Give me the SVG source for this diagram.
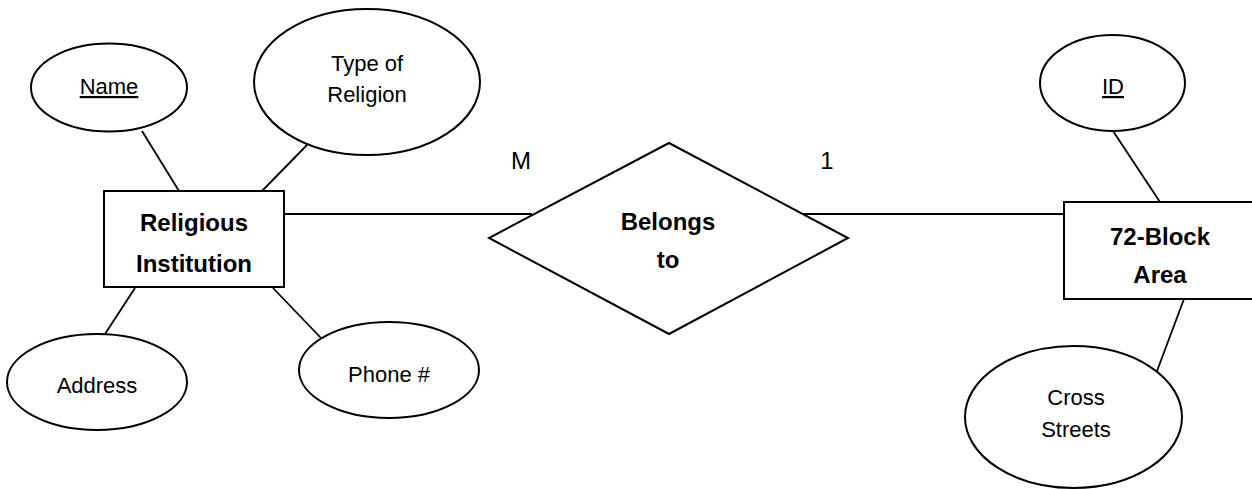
<svg xmlns="http://www.w3.org/2000/svg" width="1252" height="489" viewBox="0 0 1252 489">
<style>
.shape{fill:#fff;stroke:#000;stroke-width:2}
.conn line{stroke:#000;stroke-width:1.8}
.t{font-family:"Liberation Sans",Arial,sans-serif;font-size:22px;fill:#000;text-anchor:middle}
.c{font-family:"Liberation Sans",Arial,sans-serif;font-size:24px;fill:#000;text-anchor:middle}
.b{font-family:"Liberation Sans",Arial,sans-serif;font-size:24px;font-weight:bold;fill:#000;text-anchor:middle}
.u{text-decoration:underline}
</style>
<rect width="1252" height="489" fill="#fff"/>
<g id="connectors" class="conn">
<line x1="142" y1="131" x2="179" y2="191"/>
<line x1="307" y1="145" x2="262" y2="191"/>
<line x1="135" y1="288" x2="105" y2="334"/>
<line x1="273" y1="288" x2="321" y2="338"/>
<line x1="284" y1="214" x2="532" y2="214"/>
<line x1="802" y1="214" x2="1064" y2="214"/>
<line x1="1113" y1="131" x2="1160" y2="202"/>
<line x1="1184" y1="299" x2="1157" y2="371"/>
</g>
<g id="attr-name">
<ellipse class="shape" cx="109" cy="87.5" rx="78" ry="44"/>
<text class="t u" x="109" y="94">Name</text>
</g>
<g id="attr-type">
<ellipse class="shape" cx="367" cy="82" rx="113" ry="73"/>
<text class="t" x="367" y="71">Type of</text>
<text class="t" x="367" y="102">Religion</text>
</g>
<g id="attr-address">
<ellipse class="shape" cx="97" cy="382" rx="90" ry="48"/>
<text class="t" x="97" y="393">Address</text>
</g>
<g id="attr-phone">
<ellipse class="shape" cx="389" cy="370" rx="90" ry="48"/>
<text class="t" x="389" y="382">Phone #</text>
</g>
<g id="entity-religious">
<rect class="shape" x="104" y="191" width="180" height="96"/>
<text class="b" x="194" y="231">Religious</text>
<text class="b" x="194" y="272">Institution</text>
</g>
<g id="rel-belongs">
<polygon class="shape" points="669,143 848,238 669,334 489,238"/>
<text class="b" x="668" y="230">Belongs</text>
<text class="b" x="668" y="268">to</text>
</g>
<g id="card-m"><text class="c" x="521" y="169">M</text></g>
<g id="card-1"><text class="c" x="827" y="169">1</text></g>
<g id="attr-id">
<ellipse class="shape" cx="1112.5" cy="83" rx="72.5" ry="48"/>
<text class="t u" x="1113" y="94">ID</text>
</g>
<g id="entity-block">
<rect class="shape" x="1064" y="202" width="200" height="97"/>
<text class="b" x="1160" y="245">72-Block</text>
<text class="b" x="1160" y="283">Area</text>
</g>
<g id="attr-cross">
<ellipse class="shape" cx="1073.5" cy="417" rx="108.5" ry="71"/>
<text class="t" x="1076" y="405">Cross</text>
<text class="t" x="1076" y="437">Streets</text>
</g>
</svg>
